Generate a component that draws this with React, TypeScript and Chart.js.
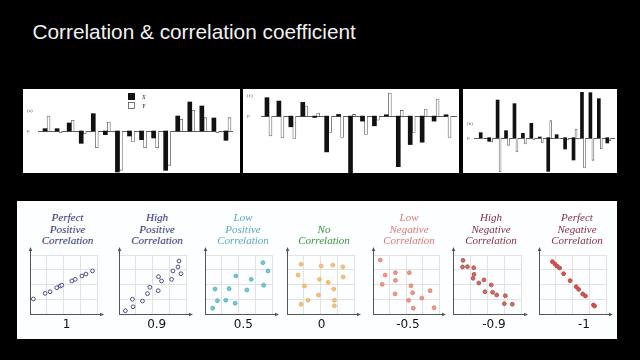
import React, { useEffect, useRef } from "react";
import { Chart, registerables } from "chart.js";
Chart.register(...registerables);

// ---------- DATA ----------
const pairLabels = ["1", "2", "3", "4", "5", "6", "7", "8", "9", "10", "11", "12", "13", "14", "15", "16"];

// panel (a)
const panelAX = [7, 7, 24, -37, 52, -11, -123, -15, -26, -21, -118, 45, 87, 75, 39, -28];
const panelAY = [45, -5, 32, -8, -50, 27, -118, -33, -50, -50, -103, 35, 62, 40, -5, 40];
// panel (c)
const panelCX = [55, 45, -32, 41, -4, -107, 5, -170, -15, -29, 4, -151, -85, -78, -15, 4];
const panelCY = [-59, -65, -67, 30, 9, -49, -64, 5, -55, -12, 69, 17, -49, 21, 51, -64];
// panel (b)
const panelBX = [15, -11, 113, 21, 102, 13, 43, 2, -101, 9, -34, -67, 137, 135, 117, -16];
const panelBY = [-3, -13, -103, -23, -43, -19, -7, -16, 51, -3, -6, 26, -91, -68, -33, -9];

// scatter plots (x, y in grid units 0..4)
const perfectPositive = [[0.2, 1.02], [0.9, 1.4], [1.2, 1.51], [1.6, 1.78], [1.8, 1.9], [1.9, 1.95], [2.5, 2.24], [2.7, 2.35], [3.1, 2.58], [3.34, 2.71], [3.73, 2.92]];
const highPositive = [[0.38, 0.22], [0.84, 0.49], [0.8, 1.0], [1.4, 0.88], [1.7, 1.38], [1.84, 1.81], [2.34, 1.58], [2.36, 2.53], [2.54, 2.24], [3.14, 2.35], [3.22, 2.92], [3.52, 3.19], [3.58, 3.59], [3.7, 2.73]];
const lowPositive = [[0.46, 0.39], [0.6, 1.69], [0.74, 0.9], [1.24, 0.93], [1.44, 1.72], [1.84, 2.58], [1.8, 0.73], [2.5, 1.63], [2.76, 2.35], [3.5, 1.95], [3.46, 3.48], [3.76, 2.92]];
const noCorrelation = [[0.84, 3.37], [0.66, 2.64], [1.04, 1.9], [0.84, 0.66], [1.26, 0.93], [2.04, 3.25], [1.94, 2.35], [1.88, 1.29], [2.46, 2.15], [2.73, 3.32], [2.79, 1.69], [2.83, 0.93], [2.83, 0.56], [3.33, 3.2], [3.35, 2.51]];
const lowNegative = [[0.44, 3.66], [0.74, 2.64], [0.56, 2.01], [1.36, 2.8], [1.36, 2.28], [1.34, 1.36], [2.2, 2.8], [2.3, 1.92], [2.4, 1.44], [2.16, 0.93], [2.44, 0.39], [2.96, 1.08], [3.46, 1.58], [3.7, 0.43]];
const highNegative = [[0.59, 3.64], [0.56, 3.19], [0.85, 3.21], [1.22, 3.14], [1.24, 2.69], [1.18, 2.42], [1.52, 2.1], [1.82, 2.31], [2.25, 1.97], [1.88, 1.51], [2.33, 1.47], [2.57, 1.29], [3.08, 1.24], [3.02, 0.7], [3.49, 0.66]];
const perfectNegative = [[0.8, 3.55], [0.95, 3.39], [1.07, 3.25], [1.23, 3.12], [1.47, 2.73], [1.86, 2.26], [2.22, 1.85], [2.37, 1.67], [2.61, 1.36], [2.77, 1.22], [3.25, 0.61], [3.32, 0.54]];

const plotTitles = [
  ["Perfect", "Positive", "Correlation"],
  ["High", "Positive", "Correlation"],
  ["Low", "Positive", "Correlation"],
  ["No", "Correlation"],
  ["Low", "Negative", "Correlation"],
  ["High", "Negative", "Correlation"],
  ["Perfect", "Negative", "Correlation"],
];
const coefficientLabels = ["1", "0.9", "0.5", "0", "-0.5", "-0.9", "-1"];
const plotSeries = [perfectPositive, highPositive, lowPositive, noCorrelation, lowNegative, highNegative, perfectNegative];

// ---------- STYLE / LAYOUT ----------
const titleColors = ["#2b2b74", "#2b2b74", "#55a6bb", "#389238", "#de7676", "#872c3f", "#872c3f"];
const pointColors = ["#4a4a8c", "#4a4a8c", "#56b2c4", "#f0b066", "#e4846e", "#b85650", "#c4443e"];
const pointFills = ["#ffffff", "#ffffff", "#7cc6d4", "#f5c27f", "#ea9a86", "#c87068", "#d05a52"];
const axisXs = [30, 119, 205, 287, 373, 453, 539];
const gridWs = [67, 67, 67, 67, 66, 68, 67];
const titleCenters = [67.5, 157, 243, 324, 409, 491, 577];
const coefCenters = [66.7, 156.7, 243.3, 321.7, 408, 494, 584];

const barPanels = [
  { left: 23, top: 89, w: 217, h: 84, pad: { left: 18, right: 6, top: 10, bottom: 0 }, min: -126, max: 96, xs: panelAX, ys: panelAY, tx: 4, ty: 3, axisL: 38, axisR: 233, tag: "(a)", legend: true },
  { left: 243, top: 89, w: 216, h: 84, pad: { left: 20, right: 5, top: 3, bottom: 0 }, min: -170, max: 72, xs: panelCX, ys: panelCY, tx: 4, ty: 3, axisL: 261, axisR: 457, tag: "(c)", legend: false },
  { left: 463, top: 89, w: 154, h: 84, pad: { left: 15, right: 4, top: 3, bottom: 1 }, min: -103, max: 137, xs: panelBX, ys: panelBY, tx: 3, ty: 2, axisL: 474, axisR: 615, tag: "(b)", legend: false },
];

function BarPanel({ p }: { p: any }) {
  const ref = useRef<HTMLCanvasElement>(null);
  useEffect(() => {
    const canvas = ref.current!;
    const deco = {
      id: "deco",
      beforeDatasetsDraw(chart: any) {
        const { ctx } = chart;
        const y0 = chart.scales.y.getPixelForValue(0);
        const unit = chart.scales.y.getPixelForValue(0) - chart.scales.y.getPixelForValue(p.max > 100 ? 42 : 60);
        ctx.save();
        ctx.strokeStyle = "#333";
        ctx.lineWidth = 0.8;
        ctx.beginPath();
        ctx.moveTo(p.axisL - p.left, Math.round(y0) + 0.5);
        ctx.lineTo(p.axisR - p.left, Math.round(y0) + 0.5);
        ctx.stroke();
        ctx.fillStyle = "#555";
        ctx.font = "5px 'Liberation Serif'";
        ctx.textBaseline = "middle";
        ctx.fillText("μ", 4, y0);
        ctx.fillText(p.tag, 4, y0 - unit);
        if (p.legend) {
          ctx.fillStyle = "#111";
          ctx.fillRect(128 - p.left, 93 - p.top, 7, 7);
          ctx.strokeStyle = "#555";
          ctx.lineWidth = 0.8;
          ctx.strokeRect(128.5 - p.left, 102.5 - p.top, 6, 6);
          ctx.fillStyle = "#222";
          ctx.font = "italic 6px 'Liberation Serif'";
          ctx.fillText("X", 142 - p.left, 97 - p.top);
          ctx.fillText("Y", 142 - p.left, 106 - p.top);
        }
        ctx.restore();
      },
    };
    const chart = new Chart(canvas, {
      type: "bar",
      data: {
        labels: pairLabels,
        datasets: [
          { label: "X", data: p.xs, backgroundColor: "#111", borderWidth: 0, barThickness: p.tx },
          { label: "Y", data: p.ys, backgroundColor: "#ffffff", borderColor: "#666", borderWidth: 0.8, barThickness: p.ty },
        ],
      },
      options: {
        animation: false,
        responsive: false,
        devicePixelRatio: 1,
        layout: { padding: p.pad },
        plugins: { legend: { display: false }, tooltip: { enabled: false }, title: { display: false } },
        scales: {
          x: { display: false, offset: true },
          y: { display: false, min: p.min, max: p.max },
        },
      },
      plugins: [deco],
    });
    return () => chart.destroy();
  }, []);
  return (
    <div style={{ position: "absolute", left: p.left, top: p.top, width: p.w, height: p.h, background: "#fff" }}>
      <canvas ref={ref} width={p.w} height={p.h} style={{ width: p.w, height: p.h, display: "block" }} />
    </div>
  );
}

function Scatter({ i }: { i: number }) {
  const ref = useRef<HTMLCanvasElement>(null);
  const padL = 6, padR = 9, padT = 10, padB = 5;
  const w = gridWs[i] + padL + padR;
  const h = 74;
  const left = axisXs[i] - padL;
  const top = 245;
  useEffect(() => {
    const arrows = {
      id: "arrows",
      afterDraw(chart: any) {
        const { ctx, chartArea } = chart;
        const { left: l, right: r, top: t, bottom: b } = chartArea;
        const ax = Math.round(l) + 0.5;
        const ay = Math.round(b) + 0.5;
        ctx.save();
        ctx.strokeStyle = "#555";
        ctx.fillStyle = "#555";
        ctx.lineWidth = 1;
        ctx.beginPath();
        ctx.moveTo(ax, t);
        ctx.lineTo(ax, t - 5);
        ctx.moveTo(r, ay);
        ctx.lineTo(r + 4, ay);
        ctx.stroke();
        ctx.beginPath();
        ctx.moveTo(ax, t - 8);
        ctx.lineTo(ax - 1.8, t - 4);
        ctx.lineTo(ax + 1.8, t - 4);
        ctx.closePath();
        ctx.fill();
        ctx.beginPath();
        ctx.moveTo(r + 7, ay);
        ctx.lineTo(r + 3, ay - 1.8);
        ctx.lineTo(r + 3, ay + 1.8);
        ctx.closePath();
        ctx.fill();
        ctx.restore();
      },
    };
    const chart = new Chart(ref.current!, {
      type: "scatter",
      data: {
        datasets: [
          {
            label: coefficientLabels[i],
            data: plotSeries[i].map(([x, y]) => ({ x, y })),
            pointRadius: 1.9,
            pointBorderWidth: 1,
            pointBorderColor: pointColors[i],
            pointBackgroundColor: pointFills[i],
          },
        ],
      },
      options: {
        animation: false,
        responsive: false,
        devicePixelRatio: 1,
        layout: { padding: { left: padL, right: padR, top: padT, bottom: padB } },
        plugins: { legend: { display: false }, tooltip: { enabled: false } },
        scales: {
          x: {
            type: "linear", min: 0, max: 4,
            ticks: { display: false, stepSize: 1 },
            grid: { color: "#e2e2e2", drawTicks: false, lineWidth: 1 },
            border: { color: "#555", width: 1 },
          },
          y: {
            type: "linear", min: 0, max: 4,
            ticks: { display: false, stepSize: 1 },
            grid: { color: "#e2e2e2", drawTicks: false, lineWidth: 1 },
            border: { color: "#555", width: 1 },
          },
        },
      },
      plugins: [arrows],
    });
    return () => chart.destroy();
  }, []);
  return (
    <>
      <div
        style={{
          position: "absolute", left: titleCenters[i] - 50, top: 212 + (3 - plotTitles[i].length) * 11.7, width: 100,
          textAlign: "center", fontFamily: "'Liberation Serif', serif", fontStyle: "italic", fontSize: 11,
          lineHeight: "11.7px", color: titleColors[i], whiteSpace: "nowrap",
        }}
      >
        {plotTitles[i].map((t, k) => (<div key={k}>{t}</div>))}
      </div>
      <canvas ref={ref} width={w} height={h} style={{ position: "absolute", left, top, width: w, height: h, display: "block" }} />
      <div
        style={{
          position: "absolute", left: coefCenters[i] - 30, top: 317.5, width: 60, textAlign: "center",
          fontFamily: "'DejaVu Sans', sans-serif", fontSize: 12, lineHeight: "12px", color: "#111",
        }}
      >
        {coefficientLabels[i]}
      </div>
    </>
  );
}

export default function App() {
  return (
    <div style={{ position: "fixed", left: 0, top: 0, width: 640, height: 360, background: "#000", overflow: "hidden" }}>
      <div
        style={{
          position: "absolute", left: 32.5, top: 22.4, fontFamily: "'Liberation Sans', Helvetica, Arial, sans-serif",
          fontSize: 20.8, lineHeight: "20.8px", color: "#f2f2f2", whiteSpace: "nowrap",
        }}
      >
        Correlation &amp; correlation coefficient
      </div>
      {barPanels.map((p, k) => (<BarPanel key={k} p={p} />))}
      <div style={{ position: "absolute", left: 17, top: 201, width: 600, height: 138, background: "#fdfeff" }} />
      {plotTitles.map((_, i) => (<Scatter key={i} i={i} />))}
    </div>
  );
}
